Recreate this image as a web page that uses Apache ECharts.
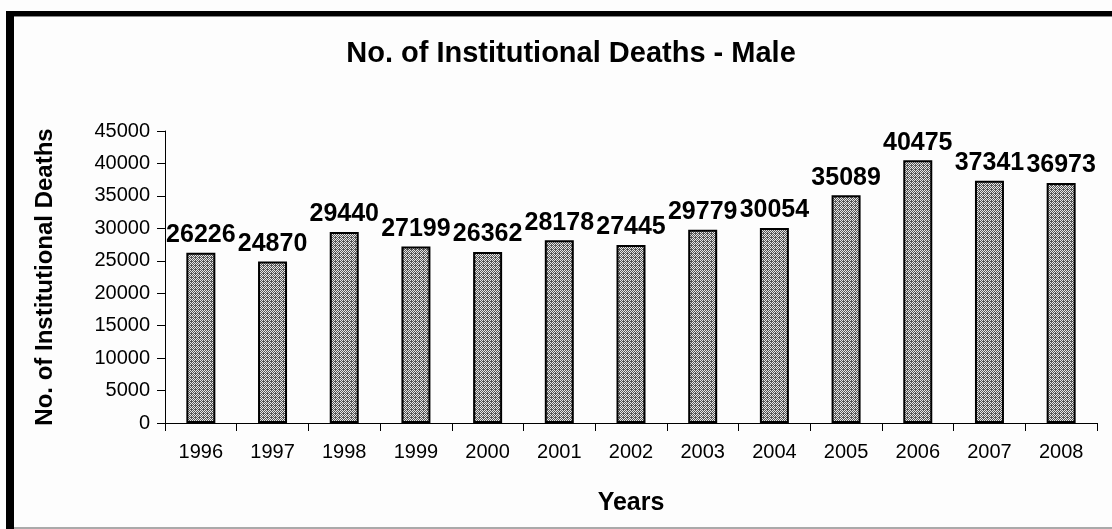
<!DOCTYPE html>
<html>
<head>
<meta charset="utf-8">
<script src="https://cdn.jsdelivr.net/npm/echarts@6/dist/echarts.min.js"></script>
<style>
  html, body { margin: 0; padding: 0; background: #fff; }
  #chart { width: 1112px; height: 529px; }
</style>
</head>
<body>
<div id="chart"></div>
<script>
// data
var years = ['1996', '1997', '1998', '1999', '2000', '2001', '2002', '2003', '2004', '2005', '2006', '2007', '2008'];
var maleDeaths = [26226, 24870, 29440, 27199, 26362, 28178, 27445, 29779, 30054, 35089, 40475, 37341, 36973];
var yTicks = [0, 5000, 10000, 15000, 20000, 25000, 30000, 35000, 40000, 45000];

// 4x4 crosshatch tile for the bars
function makeHatch () {
  var c = document.createElement('canvas');
  c.width = 4; c.height = 4;
  var ctx = c.getContext('2d');
  ctx.fillStyle = '#555';
  ctx.fillRect(0, 0, 4, 4);
  ctx.fillStyle = '#e6e6e6';
  var light = [[0,0],[2,0],[1,1],[0,2],[2,2],[3,3],[1,3]];
  light.forEach(function (p) { ctx.fillRect(p[0], p[1], 1, 1); });
  return c;
}

var font = '"Liberation Sans", Arial, sans-serif';
var chart = echarts.init(document.getElementById('chart'));

chart.setOption({
  animation: false,
  backgroundColor: '#fdfdfd',
  title: {
    text: 'No. of Institutional Deaths - Male',
    left: 566, top: 34, textAlign: 'center',
    textStyle: { fontFamily: font, fontSize: 29, fontWeight: 'bold', color: '#000' }
  },
  graphic: [
    { type: 'rect', shape: { x: 6, y: 11, width: 1110, height: 5 }, style: { fill: '#000' } },
    { type: 'rect', shape: { x: 6, y: 11, width: 8, height: 520 }, style: { fill: '#000' } },
    { type: 'rect', shape: { x: 14, y: 16, width: 1100, height: 1 }, style: { fill: '#888' } },
    { type: 'rect', shape: { x: 14, y: 527, width: 1100, height: 2 }, style: { fill: '#aaa' } }
  ],
  grid: { left: 165, right: 15, top: 131, bottom: 106 },
  xAxis: {
    type: 'category',
    data: years,
    name: 'Years',
    nameLocation: 'middle',
    nameGap: 68,
    nameTextStyle: { fontFamily: font, fontSize: 25, fontWeight: 'bold', color: '#000' },
    axisLine: { lineStyle: { color: '#000', width: 1 } },
    axisTick: { show: true, length: 8, lineStyle: { color: '#000' } },
    axisLabel: { fontFamily: font, fontSize: 20, color: '#000', margin: 19 }
  },
  yAxis: {
    type: 'value',
    min: yTicks[0],
    max: yTicks[yTicks.length - 1],
    interval: yTicks[1] - yTicks[0],
    name: 'No. of Institutional Deaths',
    nameLocation: 'middle',
    nameGap: 108,
    nameTextStyle: { fontFamily: font, fontSize: 24, fontWeight: 'bold', color: '#000' },
    splitLine: { show: false },
    axisLine: { show: true, lineStyle: { color: '#000', width: 1 } },
    axisTick: { show: true, length: 8, lineStyle: { color: '#000' } },
    axisLabel: {
      fontFamily: font, fontSize: 20, color: '#000', margin: 15,
      formatter: function (v) { return String(v); }
    }
  },
  series: [{
    type: 'bar',
    data: maleDeaths,
    barWidth: 29,
    itemStyle: {
      color: { image: makeHatch(), repeat: 'repeat' },
      borderColor: '#000',
      borderWidth: 2
    },
    label: {
      show: true,
      position: 'top',
      distance: 5,
      fontFamily: font,
      fontSize: 25,
      fontWeight: 'bold',
      color: '#000'
    }
  }]
});
</script>
</body>
</html>
